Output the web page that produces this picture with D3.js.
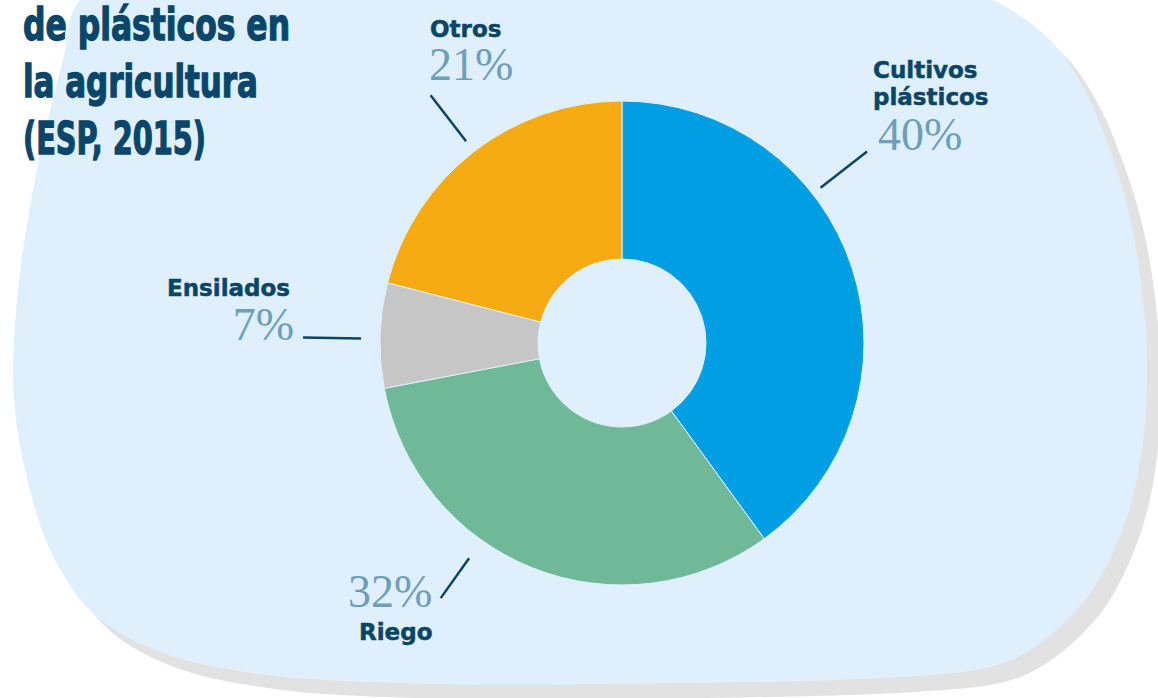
<!DOCTYPE html>
<html>
<head>
<meta charset="utf-8">
<script src="https://cdn.jsdelivr.net/npm/d3@7"></script>
<style>
  html, body { margin: 0; padding: 0; background: #fff; }
  svg { display: block; }
</style>
</head>
<body>
<svg id="chart" width="1158" height="698"></svg>
<script>
// data
const categories = ["Cultivos plásticos", "Riego", "Ensilados", "Otros"];
const values = [40, 32, 7, 21];
const colors = ["#009FE3", "#6FB998", "#C6C6C6", "#F6AB12"];
const titleLines = ["de plásticos en", "la agricultura", "(ESP, 2015)"];

// label layout (leader angle in degrees, clockwise from top)
const labelLayout = [
  { angle: 52,    r0: 252, r1: 311, name: [[873, 78], [873, 105]], pct: [878, 150], anchor: "start" },
  { angle: 215.4, r0: 264, r1: 313, name: [[359, 640]], pct: [348, 607], anchor: "start" },
  { angle: 271,   r0: 261, r1: 319, name: [[167, 296]], pct: [294, 340], anchor: "end" },
  { angle: 322.3, r0: 255, r1: 313, name: [[430, 37]], pct: [429, 80], anchor: "start" }
];
const nameLines = [["Cultivos", "plásticos"], ["Riego"], ["Ensilados"], ["Otros"]];

// background blob outline
const blobPts = [
  [80, 0], [63, 60], [35, 180], [17, 300], [14, 400], [30, 490], [55, 560],
  [95, 615], [160, 652], [260, 674], [400, 683], [600, 684], [900, 677], [990, 667],
  [1030, 650], [1070, 617], [1097, 583], [1127, 517], [1142, 450], [1147, 370],
  [1143, 300], [1130, 217], [1110, 150], [1083, 87], [1050, 40], [993, 0],
  [850, -50], [550, -80], [200, -60]
];

const svg = d3.select("#chart");
const cx = 622, cy = 343, outerR = 242, innerR = 84;
const navy = "#0B4566";

const blob = d3.line().curve(d3.curveCatmullRomClosed.alpha(0.5));

svg.append("path")
  .attr("d", blob(blobPts))
  .attr("transform", "translate(14,15)")
  .attr("fill", "#E2E2E2");

svg.append("path")
  .attr("d", blob(blobPts))
  .attr("fill", "#DFF0FC");

// title
const titleWidths = [267, 235, 183];
svg.append("g").selectAll("text")
  .data(titleLines)
  .join("text")
  .attr("x", 23)
  .attr("y", (d, i) => 40 + i * 57)
  .attr("textLength", (d, i) => titleWidths[i])
  .attr("lengthAdjust", "spacingAndGlyphs")
  .attr("font-family", "'Liberation Sans Narrow', 'DejaVu Sans Condensed', sans-serif")
  .attr("font-weight", "bold")
  .attr("font-size", 45)
  .attr("fill", "#09466A")
  .attr("stroke", "#09466A")
  .attr("stroke-width", 1.3)
  .text(d => d);

// donut
const pie = d3.pie().sort(null).value(d => d);
const arc = d3.arc().innerRadius(innerR).outerRadius(outerR);
const arcs = pie(values);

const g = svg.append("g").attr("transform", `translate(${cx},${cy})`);
g.selectAll("path")
  .data(arcs)
  .join("path")
  .attr("d", arc)
  .attr("fill", (d, i) => colors[i])
  .attr("stroke", "#DFF0FC")
  .attr("stroke-width", 1);

// leader lines
const polar = (deg, r) => {
  const a = deg * Math.PI / 180;
  return [cx + r * Math.sin(a), cy - r * Math.cos(a)];
};

svg.append("g").selectAll("line")
  .data(labelLayout)
  .join("line")
  .attr("x1", d => polar(d.angle, d.r0)[0])
  .attr("y1", d => polar(d.angle, d.r0)[1])
  .attr("x2", d => polar(d.angle, d.r1)[0])
  .attr("y2", d => polar(d.angle, d.r1)[1])
  .attr("stroke", navy)
  .attr("stroke-width", 2.5);

// labels
labelLayout.forEach((lay, i) => {
  nameLines[i].forEach((t, j) => {
    svg.append("text")
      .attr("x", lay.name[j][0])
      .attr("y", lay.name[j][1])
      .attr("font-family", "'DejaVu Sans', sans-serif")
      .attr("font-weight", "bold")
      .attr("font-size", 23)
      .attr("fill", navy)
      .attr("stroke", navy)
      .attr("stroke-width", 0.5)
      .text(t);
  });
  svg.append("text")
    .attr("x", lay.pct[0])
    .attr("y", lay.pct[1])
    .attr("text-anchor", lay.anchor)
    .attr("font-family", "'Liberation Serif', serif")
    .attr("font-size", 46)
    .attr("fill", "#6C9FBA")
    .text(values[i] + "%");
});
</script>
</body>
</html>
